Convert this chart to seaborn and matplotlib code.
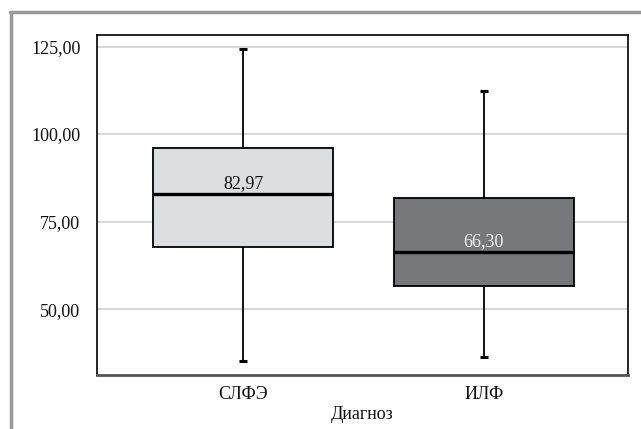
import numpy as np
import matplotlib.pyplot as plt
import seaborn as sns
import pandas as pd
from matplotlib.lines import Line2D
from matplotlib.ticker import FuncFormatter

# Пятичисловые сводки по диагнозам (мин, Q1, медиана, Q3, макс)
diagnozy = ['СЛФЭ', 'ИЛФ']
slfe = [35.3, 67.8, 82.97, 96.0, 124.3]
ilf = [36.3, 56.6, 66.30, 81.7, 112.3]
medianas = [82.97, 66.30]
colores = ['#dcdddf', '#77787b']
colores_texto = ['#111111', '#eeeeee']

df = pd.DataFrame({
    'Диагноз': [diagnozy[0]] * len(slfe) + [diagnozy[1]] * len(ilf),
    'valor': slfe + ilf,
})

sns.set_style('white')
plt.rcParams['font.family'] = ['Liberation Serif', 'DejaVu Serif']
plt.rcParams['text.color'] = '#111111'
plt.rcParams['xtick.color'] = '#111111'
plt.rcParams['ytick.color'] = '#111111'
plt.rcParams['axes.labelcolor'] = '#111111'

fig = plt.figure(figsize=(6.41, 4.29), dpi=100)
ax = fig.add_axes([97 / 641, 1 - 375 / 429, 531 / 641, 340 / 429])

sns.boxplot(data=df, x='Диагноз', y='valor', hue='Диагноз', palette=colores,
            width=0.75, whis=(0, 100), linecolor='black', linewidth=1.3,
            medianprops={'linewidth': 2.4, 'color': 'black'},
            legend=False, ax=ax)

# capas cortas como en el original
for line in ax.lines:
    x = line.get_xdata()
    y = line.get_ydata()
    if len(y) == 2 and y[0] == y[1] and abs(x[1] - x[0]) < 0.5 and y[0] not in medianas:
        c = (x[0] + x[1]) / 2
        line.set_xdata([c - 0.018, c + 0.018])
        line.set_linewidth(2.2)
        line.set_solid_capstyle('butt')

for i, m in enumerate(medianas):
    ax.annotate(f'{m:.2f}'.replace('.', ','), (i, m), xytext=(0, 1.5),
                textcoords='offset points', ha='center', va='bottom',
                fontsize=13, color=colores_texto[i])

ax.set_ylim(31.2, 128.3)
ax.set_xlim(-0.606, 1.598)
ax.set_yticks([50, 75, 100, 125])
ax.yaxis.set_major_formatter(FuncFormatter(lambda v, p: f'{v:.2f}'.replace('.', ',')))
ax.grid(axis='y', color='#d0d0d0', linewidth=1.2)
ax.set_axisbelow(True)
ax.tick_params(axis='both', length=0, labelsize=13)
ax.tick_params(axis='y', pad=12)
ax.tick_params(axis='x', pad=8)
ax.set_ylabel('')
ax.set_xlabel('Диагноз', fontsize=13, labelpad=2)

for s in ['left', 'top', 'right']:
    ax.spines[s].set_color('black')
    ax.spines[s].set_linewidth(1.2)
ax.spines['bottom'].set_color('#555555')
ax.spines['bottom'].set_linewidth(2)

# marco gris exterior
fig.add_artist(Line2D([11 / 641, 11 / 641], [0, 1 - 12 / 429], color='#999999', linewidth=2.5))
fig.add_artist(Line2D([10 / 641, 1], [1 - 12 / 429, 1 - 12 / 429], color='#999999', linewidth=2.5))

fig.savefig('out.png', dpi=100)
